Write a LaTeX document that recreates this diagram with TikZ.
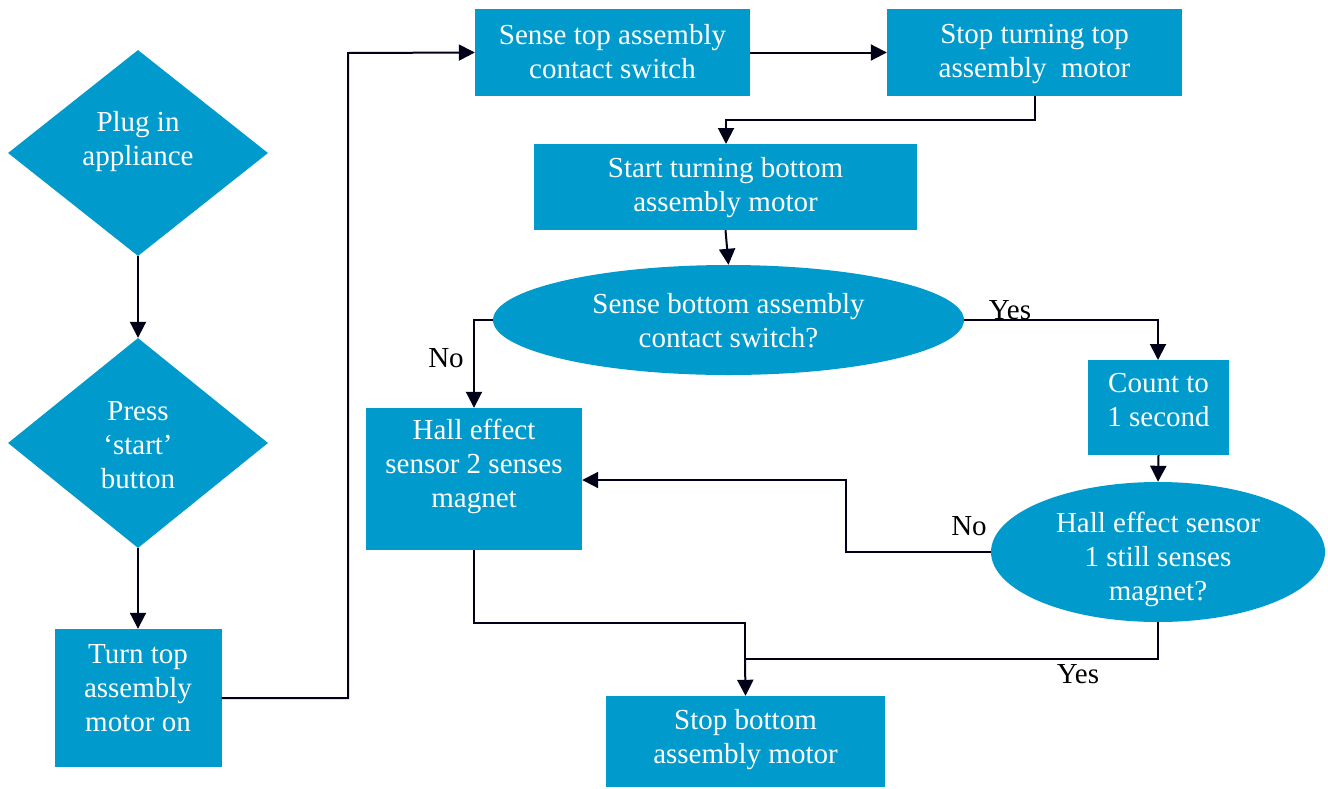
\documentclass[tikz,border=0pt]{standalone}
\usepackage{fontspec}
\setmainfont{Liberation Serif}
\usetikzlibrary{shapes.geometric,arrows.meta}
\definecolor{boxblue}{HTML}{009BCC}
\tikzset{
  base/.style={fill=boxblue, draw=none, inner sep=0pt},
  rbox/.style={base, rectangle},
  dbox/.style={base, diamond, aspect=1.262},
  ebox/.style={base, ellipse},
  txt/.style={text=white, inner sep=0pt, align=center,
    font=\fontsize{29}{34}\selectfont},
  conn/.style={line width=2pt, draw=black!90!blue},
  arr/.style={conn, -{Triangle[length=16pt,width=16pt]}},
  lbl/.style={font=\fontsize{29}{34}\selectfont, text=black, inner sep=0pt}
}
\begin{document}
\begin{tikzpicture}[x=1pt,y=-1pt]
\useasboundingbox (0,0) rectangle (1328,788);
% shapes
\node[dbox, minimum width=260, minimum height=206] (d1) at (138,153) {};
\node[dbox, minimum width=260, minimum height=210] (d2) at (138,443) {};
\node[rbox, minimum width=167, minimum height=138] (turn) at (138,698) {};
\node[rbox, minimum width=275, minimum height=87] (sense) at (612.5,52.5) {};
\node[rbox, minimum width=295, minimum height=87] (stoptop) at (1034.5,52.5) {};
\node[rbox, minimum width=383, minimum height=86] (startbot) at (725.5,187) {};
\node[ebox, minimum width=471, minimum height=110] (e1) at (728.5,320) {};
\node[rbox, minimum width=216, minimum height=142] (hall2) at (474,479) {};
\node[rbox, minimum width=141, minimum height=95] (count) at (1158.5,407.5) {};
\node[ebox, minimum width=334, minimum height=140] (e2) at (1158,552) {};
\node[rbox, minimum width=279, minimum height=91] (stopbot) at (745.5,741.5) {};
% texts
\node[txt] (d1t) at ([yshift=11pt]d1.center) {Plug in\\appliance};
\node[txt] (d2t) at ([yshift=-2pt]d2.center) {Press\\‘start’\\button};
\node[txt] (turnt) at ([yshift=10pt]turn.center) {Turn top\\assembly\\motor on};
\node[txt] (senset) at ([yshift=1pt]sense.center) {Sense top assembly\\contact switch};
\node[txt] (stoptopt) at ([yshift=-2pt]stoptop.center) {Stop turning top\\assembly~~motor};
\node[txt] (startbott) at ([yshift=-1pt]startbot.center) {Start turning bottom\\assembly motor};
\node[txt] (e1t) at ([yshift=-1pt]e1.center) {Sense bottom assembly\\contact switch?};
\node[txt] (hall2t) at ([yshift=13pt]hall2.center) {Hall effect\\sensor 2 senses\\magnet};
\node[txt] (countt) at ([yshift=7pt]count.center) {Count to\\1 second};
\node[txt] (e2t) at ([yshift=-7pt]e2.center) {Hall effect sensor\\1 still senses\\magnet?};
\node[txt] (stopbott) at ([yshift=2pt]stopbot.center) {Stop bottom\\assembly motor};
% helper coordinates
\coordinate (j1) at (745,659);
% connectors
\draw[arr] (d1.south) -- (d2.north);
\draw[arr] (d2.south) -- (turn.north);
\draw[arr] (turn.east) -- (348,698) -- (348,53) -- (sense.west);
\draw[arr] (sense.east) -- (stoptop.west);
\draw[arr] (stoptop.south) -- (1034.5,120) -- (726,120) -- (726,144);
\draw[arr] (startbot.south) -- (e1.north);
\draw[arr] (e1.west) -- (474,320) -- (hall2.north);
\draw[arr] (e1.east) -- (1158,320) -- (1158,360);
\draw[arr] (count.south) -- (e2.north);
\draw[arr] (e2.west) -- (846,552) -- (846,480) -- (hall2.east |- 0,480);
\draw[conn] (hall2.south) -- (474,623) -- (745,623) -- (j1);
\draw[conn] (e2.south) -- (1158,659) -- (j1);
\draw[arr] (j1) -- (stopbot.north);
% labels
\node[lbl] (lno1) at (446,358) {No};
\node[lbl] (lyes1) at (1010,310) {Yes};
\node[lbl] (lno2) at (969,526) {No};
\node[lbl] (lyes2) at (1078,674) {Yes};
\end{tikzpicture}
\end{document}
